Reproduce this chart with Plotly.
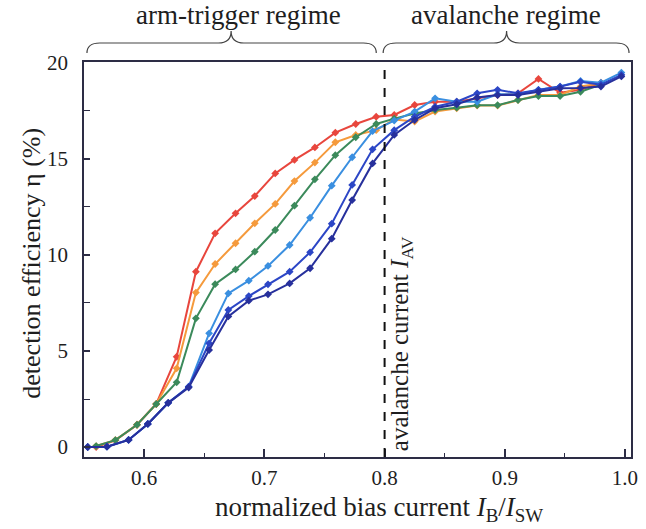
import plotly.graph_objects as go

# x grids (normalized bias current I_B/I_SW)
x_warm = [0.560, 0.576, 0.594, 0.610, 0.627, 0.643, 0.659, 0.676, 0.692, 0.709, 0.725,
          0.742, 0.759, 0.776, 0.793, 0.808, 0.825, 0.842, 0.860, 0.877, 0.894, 0.911,
          0.928, 0.946, 0.963, 0.980]
x_cool = [0.553, 0.569, 0.587, 0.603, 0.620, 0.637, 0.654, 0.670, 0.687, 0.703, 0.721,
          0.738, 0.756, 0.773, 0.790, 0.808, 0.825, 0.842, 0.860, 0.877, 0.894, 0.911,
          0.928, 0.946, 0.963, 0.980, 0.997]

# detection efficiency (%)
red = [0.0, 0.35, 1.16, 2.24, 4.70, 9.13, 11.13, 12.17, 13.07, 14.25, 14.95, 15.6, 16.37,
       16.82, 17.2, 17.29, 17.81, 17.98, 17.98, 18.16, 18.33, 18.42, 19.17, 18.45, 18.6, 18.97]
orange = [0.05, 0.36, 1.16, 2.24, 4.1, 8.04, 9.53, 10.61, 11.65, 12.66, 13.85, 14.81, 15.87,
          16.25, 16.5, 17.05, 16.95, 17.47, 17.64, 17.78, 17.78, 18.07, 18.33, 18.33, 18.77, 18.94]
green = [0.05, 0.36, 1.16, 2.24, 3.37, 6.7, 8.48, 9.25, 10.17, 11.3, 12.57, 13.94, 15.2,
         16.13, 16.82, 17.1, 17.37, 17.55, 17.67, 17.8, 17.8, 18.07, 18.28, 18.28, 18.5, 18.87]
lightblue = [0.0, 0.02, 0.37, 1.2, 2.3, 3.14, 5.92, 8.0, 8.66, 9.43, 10.52, 11.94, 13.61,
             15.09, 16.45, 17.0, 17.47, 18.16, 17.98, 17.98, 18.37, 18.37, 18.6, 18.77, 19.06,
             18.97, 19.5]
blue = [0.0, 0.02, 0.37, 1.2, 2.3, 3.14, 5.4, 7.14, 7.86, 8.47, 9.13, 10.14, 11.63, 13.65,
        15.5, 16.5, 17.2, 17.72, 17.98, 18.42, 18.6, 18.42, 18.6, 18.77, 19.02, 18.87, 19.38]
navy = [0.0, 0.02, 0.37, 1.2, 2.3, 3.1, 5.05, 6.8, 7.62, 7.95, 8.52, 9.31, 10.85, 12.86,
        14.77, 16.25, 17.03, 17.64, 17.85, 18.2, 18.33, 18.33, 18.5, 18.68, 18.7, 18.77, 19.3]

series = [
    ("red", x_warm, red, "#e8463d"),
    ("orange", x_warm, orange, "#f59a3c"),
    ("green", x_warm, green, "#3b8a5b"),
    ("light blue", x_cool, lightblue, "#3a8fe0"),
    ("blue", x_cool, blue, "#2c46c6"),
    ("navy", x_cool, navy, "#27309c"),
]

x_ticks = [0.6, 0.7, 0.8, 0.9, 1.0]
x_ticklabels = ["0.6", "0.7", "0.8", "0.9", "1.0"]
y_ticks = [0, 5, 10, 15, 20]

FONT = "Liberation Serif"
FRAME = "#2d2d45"
TXT = "#1e1e1e"

fig = go.Figure()
for name, xs, ys, col in series:
    fig.add_trace(go.Scatter(
        x=xs, y=ys, mode="lines+markers", name=name,
        line=dict(color=col, width=2),
        marker=dict(symbol="diamond", size=6, color=col),
        showlegend=False,
    ))

W, H = 646, 529
ML, MR, MT, MB = 84, 8, 62, 72
PW, PH = W - ML - MR, H - MT - MB


def px(x, y):
    return (x - ML) / PW, (H - MB - y) / PH


def brace(x0, x1, xt, y_end, y_arm, y_tip, r=13):
    pts = [
        ("M", [(x0, y_end)]),
        ("Q", [(x0, y_arm), (x0 + r, y_arm)]),
        ("L", [(xt - r, y_arm)]),
        ("Q", [(xt, y_arm), (xt, y_tip)]),
        ("Q", [(xt, y_arm), (xt + r, y_arm)]),
        ("L", [(x1 - r, y_arm)]),
        ("Q", [(x1, y_arm), (x1, y_end)]),
    ]
    s = ""
    for cmd, ps in pts:
        s += cmd + " " + " ".join("%.5f,%.5f" % px(a, b) for a, b in ps) + " "
    return s.strip()


shapes = [
    dict(type="line", xref="x", yref="paper", x0=0.8, x1=0.8, y0=0, y1=1,
         line=dict(color="#111111", width=2, dash="dash")),
    dict(type="path", xref="paper", yref="paper",
         path=brace(87, 380, 233, 53, 43, 31),
         line=dict(color="#444444", width=1.2)),
    dict(type="path", xref="paper", yref="paper",
         path=brace(387, 636, 512, 53, 43, 31),
         line=dict(color="#444444", width=1.2)),
]

annotations = [
    dict(text="arm-trigger regime", xref="paper", yref="paper",
         x=px(240, 15)[0], y=px(240, 15)[1], showarrow=False,
         font=dict(family=FONT, size=27, color=TXT), xanchor="center", yanchor="middle"),
    dict(text="avalanche regime", xref="paper", yref="paper",
         x=px(511, 15)[0], y=px(511, 15)[1], showarrow=False,
         font=dict(family=FONT, size=27, color=TXT), xanchor="center", yanchor="middle"),
    dict(text="avalanche current <i>I</i><sub>AV</sub>", xref="x", yref="y",
         x=0.8135, y=5.4, textangle=-90, showarrow=False,
         font=dict(family=FONT, size=25, color=TXT), xanchor="center", yanchor="middle"),
    dict(text="detection efficiency \u03b7 (%)", xref="paper", yref="paper",
         x=px(30, 263)[0], y=px(30, 263)[1], textangle=-90, showarrow=False,
         font=dict(family=FONT, size=26, color=TXT), xanchor="center", yanchor="middle"),
    dict(text="normalized bias current <i>I</i><sub>B</sub>/<i>I</i><sub>SW</sub>",
         xref="paper", yref="paper", x=px(383, 509)[0], y=px(383, 509)[1], showarrow=False,
         font=dict(family=FONT, size=27, color=TXT), xanchor="center", yanchor="middle"),
]

fig.update_layout(
    width=W, height=H,
    margin=dict(l=ML, r=MR, t=MT, b=MB, pad=0),
    paper_bgcolor="white", plot_bgcolor="white",
    font=dict(family=FONT, size=21, color=TXT),
    shapes=shapes, annotations=annotations,
    xaxis=dict(range=[0.5499, 1.005], tickvals=x_ticks, ticktext=x_ticklabels,
               ticks="inside", ticklen=8, tickwidth=1.5, tickcolor=FRAME,
               minor=dict(ticks="inside", ticklen=4, tickwidth=1.2, tickcolor=FRAME,
                          tickvals=[0.65, 0.75, 0.85, 0.95]),
               showline=True, linecolor=FRAME, linewidth=1.6, mirror=True,
               showgrid=False, zeroline=False, ticklabelstandoff=1,
               tickfont=dict(family=FONT, size=21, color=TXT)),
    yaxis=dict(range=[-0.52, 20.05], tickvals=y_ticks,
               ticks="inside", ticklen=6, tickwidth=1.5, tickcolor=FRAME,
               minor=dict(ticks="inside", ticklen=6, tickwidth=1.2, tickcolor=FRAME,
                          tickvals=[2.5, 7.5, 12.5, 17.5]),
               showline=True, linecolor=FRAME, linewidth=1.6, mirror=True,
               showgrid=False, zeroline=False, ticklabelstandoff=10,
               tickfont=dict(family=FONT, size=21, color=TXT)),
)

fig.write_html("out.html")
